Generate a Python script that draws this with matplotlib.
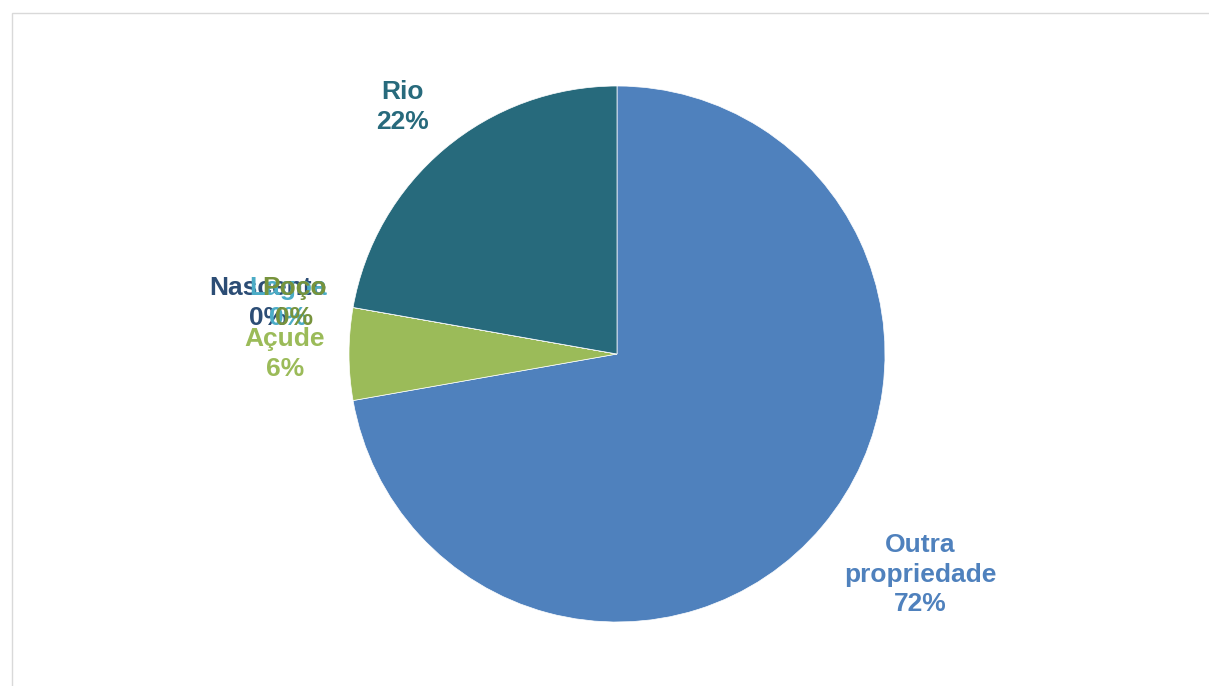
import numpy as np
import matplotlib.pyplot as plt
from matplotlib.patches import Rectangle

# Dados (fonte de água)
categorias = ['Outra\npropriedade', 'Açude', 'Nascente', 'Lagoa', 'Poço', 'Rio']
valores = [13, 1, 0, 0, 0, 4]
cores = ['#4F81BD', '#9BBB59', '#2C4D75', '#4BACC6', '#77933C', '#276A7C']

# Posição dos rótulos: distância radial e alinhamento
dist_rotulo = [1.40, 1.09, 1.10, 1.10, 1.10, 1.22]
alinh_rotulo = ['center', 'right', 'right', 'right', 'right', 'center']

plt.rcParams['font.family'] = ['Liberation Sans', 'DejaVu Sans']

fig = plt.figure(figsize=(12.09, 6.86), dpi=100)
ax = fig.add_axes([0, 0, 1, 1])

wedges, _ = ax.pie(valores, colors=cores, startangle=90, counterclock=False,
                   wedgeprops=dict(edgecolor='white', linewidth=0.5))

total = sum(valores)
for w, cat, v, d, ha, c in zip(wedges, categorias, valores, dist_rotulo, alinh_rotulo, cores):
    ang = np.deg2rad((w.theta1 + w.theta2) / 2)
    if cat.startswith('Outra'):
        ang += np.deg2rad(4)
    elif cat == 'Rio':
        ang += np.deg2rad(1)
    x, y = d * np.cos(ang), d * np.sin(ang)
    pct = f'{v / total * 100:.0f}%'
    ax.text(x, y, f'{cat}\n{pct}', ha=ha, va='center', multialignment='center',
            color=c, fontsize=19, fontweight='bold', linespacing=1.3)

# mapear: centro em (617, 354) px, raio 268 px
W, H = 1209, 686
cx, cy, r = 617, H - 354, 268
ax.set_xlim(-cx / r, (W - cx) / r)
ax.set_ylim(-cy / r, (H - cy) / r)
ax.set_aspect('auto')
ax.axis('off')

# moldura cinza clara
fig.patches.append(Rectangle((12 / W, -0.01), 1.0, 1 - 13 / H + 0.01,
                             transform=fig.transFigure, fill=False,
                             edgecolor='#D9D9D9', linewidth=1.0))

fig.savefig('out.png', dpi=100)
